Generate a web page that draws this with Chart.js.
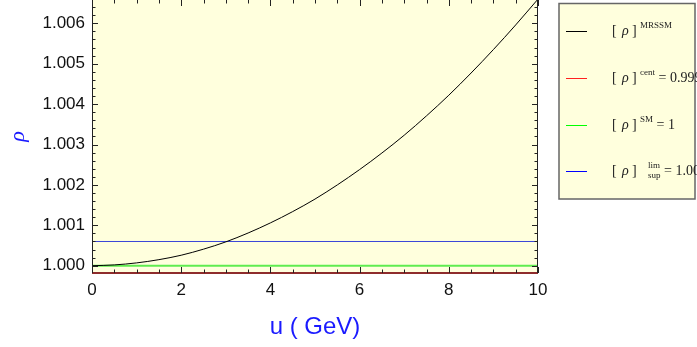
<!DOCTYPE html>
<html>
<head>
<meta charset="utf-8">
<script src="https://cdn.jsdelivr.net/npm/chart.js@4"></script>
<style>
  html, body { margin: 0; padding: 0; background: #fff; }
</style>
</head>
<body>
<canvas id="rhoChart" width="697" height="347"></canvas>
<script>
// valores
const uValues   = [0, 0.5, 1, 1.5, 2, 2.5, 3, 3.5, 4, 4.5, 5, 5.5, 6, 6.5, 7, 7.5, 8, 8.5, 9, 9.5, 10];
const rhoMRSSM  = [1.00000, 1.00002, 1.00007, 1.00015, 1.00026, 1.00041, 1.00059, 1.00081, 1.00106, 1.00134,
                   1.00165, 1.00200, 1.00238, 1.00279, 1.00323, 1.00371, 1.00422, 1.00477, 1.00535, 1.00596, 1.00660];
const rhoCent   = 0.99982;
const rhoSM     = 1.0;
const rhoLimSup = 1.0006;

const xTicks = [0, 2, 4, 6, 8, 10];
const yTicks = [1.000, 1.001, 1.002, 1.003, 1.004, 1.005, 1.006];
const yMin = 0.99982;
const yMax = 1.006577;

const legendItems = [
  { color: '#000000', sup: 'MRSSM', sub: '',    rest: '' },
  { color: '#ff2020', sup: 'cent',  sub: '',    rest: ' = 0.9998' },
  { color: '#00ff00', sup: 'SM',    sub: '',    rest: ' = 1' },
  { color: '#0000ff', sup: 'lim',   sub: 'sup', rest: ' = 1.0006' }
];

function flatLine(v) {
  return [{ x: uValues[0], y: v }, { x: uValues[uValues.length - 1], y: v }];
}

// fondo amarillo + marco con ticks hacia dentro (estilo Mathematica)
const frameTicks = {
  id: 'frameTicks',
  beforeDatasetsDraw(chart) {
    const { ctx, chartArea: a } = chart;
    ctx.save();
    ctx.fillStyle = '#ffffdd';
    ctx.fillRect(a.left, a.top, a.right - a.left, a.bottom - a.top);
    ctx.restore();
  },
  afterDatasetsDraw(chart) {
    const { ctx, chartArea: a, scales: { x, y } } = chart;
    ctx.save();
    ctx.strokeStyle = '#222';
    ctx.lineWidth = 1;
    ctx.beginPath();
    ctx.moveTo(a.left + 0.5, a.top);
    ctx.lineTo(a.left + 0.5, a.bottom);
    ctx.moveTo(a.right - 0.5, a.top);
    ctx.lineTo(a.right - 0.5, a.bottom);
    ctx.stroke();

    ctx.beginPath();
    // x: mayores cada 2, menores cada 0.5
    for (let v = xTicks[0]; v <= xTicks[xTicks.length - 1] + 1e-9; v += 0.5) {
      const px = Math.round(x.getPixelForValue(v)) + 0.5;
      const len = (Math.abs(v / 2 - Math.round(v / 2)) < 1e-6) ? 6 : 3.5;
      ctx.moveTo(px, a.bottom); ctx.lineTo(px, a.bottom - len);
      ctx.moveTo(px, a.top);    ctx.lineTo(px, a.top + len);
    }
    // y: mayores cada 0.001, menores cada 0.0002
    for (let i = 0; i <= 35; i++) {
      const v = yTicks[0] + i * 0.0002;
      if (v > yMax) break;
      const py = Math.round(y.getPixelForValue(v)) + 0.5;
      const len = (i % 5 === 0) ? 6 : 3.5;
      ctx.moveTo(a.left, py);  ctx.lineTo(a.left + len, py);
      ctx.moveTo(a.right, py); ctx.lineTo(a.right - len, py);
    }
    ctx.stroke();
    ctx.restore();
  }
};

// leyenda dibujada a mano (caja a la derecha)
const boxLegend = {
  id: 'boxLegend',
  afterDraw(chart) {
    const ctx = chart.ctx;
    ctx.save();
    ctx.fillStyle = '#ffffdd';
    ctx.fillRect(559, 3, 136, 196);
    ctx.strokeStyle = '#666';
    ctx.lineWidth = 1.5;
    ctx.strokeRect(559, 3.5, 136, 195.5);

    legendItems.forEach((item, i) => {
      const ry = 30.7 + i * 46.9;
      ctx.strokeStyle = item.color;
      ctx.lineWidth = 1;
      ctx.beginPath();
      ctx.moveTo(566, Math.round(ry) + 0.5);
      ctx.lineTo(587, Math.round(ry) + 0.5);
      ctx.stroke();

      ctx.fillStyle = '#222';
      ctx.textBaseline = 'alphabetic';
      ctx.textAlign = 'left';
      const by = ry + 4;
      ctx.font = '14px "Liberation Serif"';
      ctx.fillText('[', 612, by);
      ctx.font = 'italic 14px "Liberation Serif"';
      ctx.fillText('ρ', 622, by);
      ctx.font = '14px "Liberation Serif"';
      ctx.fillText(']', 632, by);
      let tx = 640;

      ctx.font = '9px "Liberation Serif"';
      let w = ctx.measureText(item.sup).width;
      if (item.sub) {
        tx += 8;
        ctx.fillText(item.sup, tx, ry - 3);
        ctx.fillText(item.sub, tx, ry + 7);
        w = Math.max(w, ctx.measureText(item.sub).width);
      } else {
        ctx.fillText(item.sup, tx, ry - 2.5);
      }
      tx += w;
      ctx.font = '14px "Liberation Serif"';
      if (item.rest) ctx.fillText(item.rest, tx, by);
    });
    ctx.restore();
  }
};

const ctx = document.getElementById('rhoChart').getContext('2d');

new Chart(ctx, {
  type: 'line',
  data: {
    datasets: [
      {
        label: 'MRSSM',
        data: uValues.map((u, i) => ({ x: u, y: rhoMRSSM[i] })),
        borderColor: '#000',
        borderWidth: 1,
        pointRadius: 0,
        tension: 0.4,
        cubicInterpolationMode: 'monotone'
      },
      {
        label: 'cent',
        data: flatLine(rhoCent),
        borderColor: '#8e2c2c',
        borderWidth: 2,
        pointRadius: 0,
        clip: 2
      },
      {
        label: 'SM',
        data: flatLine(rhoSM),
        borderColor: '#5fec4f',
        borderWidth: 2,
        pointRadius: 0
      },
      {
        label: 'lim sup',
        data: flatLine(rhoLimSup),
        borderColor: '#3a45d8',
        borderWidth: 1,
        pointRadius: 0
      }
    ]
  },
  options: {
    responsive: false,
    animation: false,
    devicePixelRatio: 1,
    layout: { padding: { top: 0, right: 159, left: 0, bottom: 0 } },
    plugins: {
      legend: { display: false },
      tooltip: { enabled: false }
    },
    scales: {
      x: {
        type: 'linear',
        min: 0,
        max: 10,
        afterBuildTicks: s => { s.ticks = xTicks.map(v => ({ value: v })); },
        afterFit: s => { s.height = 74; s.paddingLeft = 0; s.paddingRight = 0; },
        grid: { display: false, drawTicks: false },
        border: { display: false },
        ticks: {
          color: '#111',
          padding: 7,
          maxRotation: 0,
          font: { family: '"Liberation Sans", Arial, sans-serif', size: 17 }
        },
        title: {
          display: true,
          text: 'u ( GeV)',
          color: '#1a1aff',
          font: { family: '"Liberation Sans", Arial, sans-serif', size: 24 },
          padding: { top: 0, bottom: 5 }
        }
      },
      y: {
        type: 'linear',
        min: yMin,
        max: yMax,
        afterBuildTicks: s => { s.ticks = yTicks.map(v => ({ value: v })); },
        afterFit: s => { s.width = 92; s.paddingTop = 0; s.paddingBottom = 0; },
        grid: { display: false, drawTicks: false },
        border: { display: false },
        ticks: {
          color: '#111',
          padding: 7,
          callback: v => Number(v).toFixed(3),
          font: { family: '"Liberation Sans", Arial, sans-serif', size: 17 }
        },
        title: {
          display: true,
          text: 'ρ',
          color: '#1a1aff',
          font: { family: '"Liberation Serif", serif', size: 22, style: 'italic' },
          padding: { top: 5, bottom: 0 }
        }
      }
    }
  },
  plugins: [frameTicks, boxLegend]
});
</script>
</body>
</html>
